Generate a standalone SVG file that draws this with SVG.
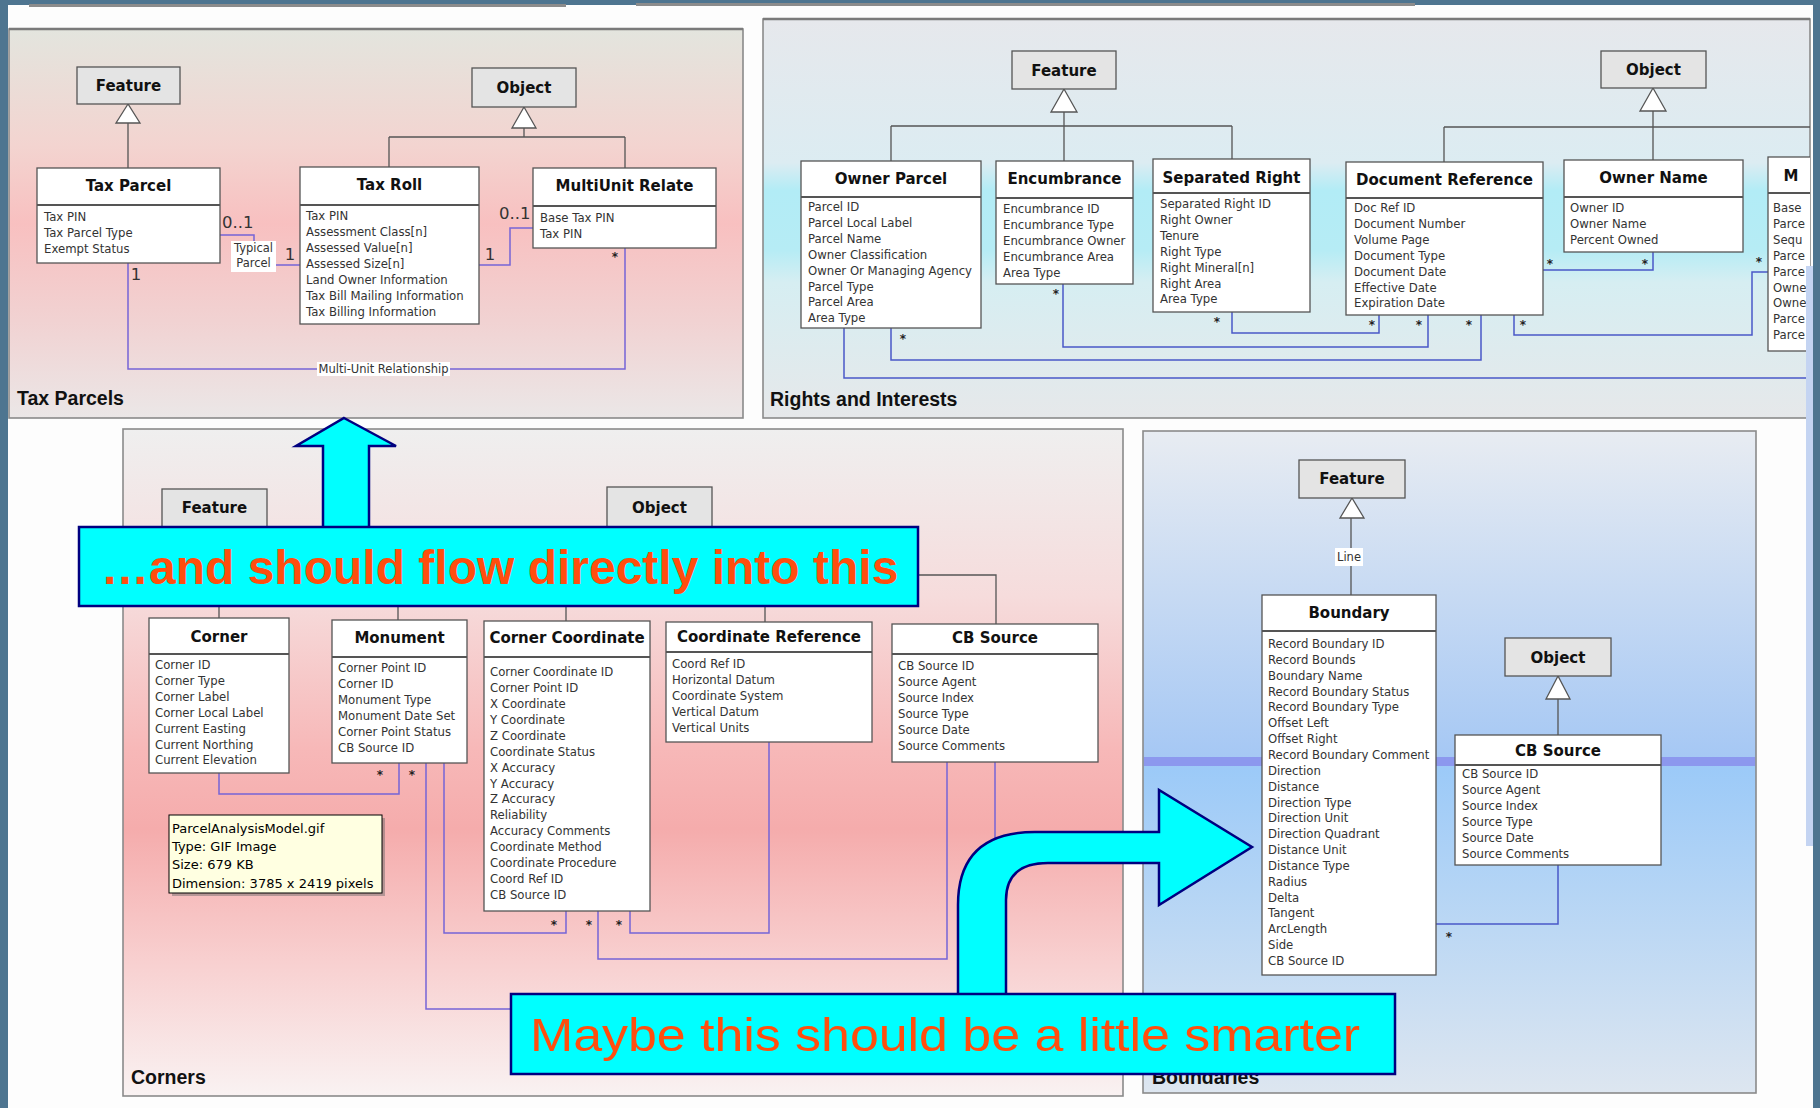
<svg xmlns="http://www.w3.org/2000/svg" width="1820" height="1108" viewBox="0 0 1820 1108">
<defs>
<style>
.box{fill:#fff;stroke:#555;stroke-width:1.3}
.abs{fill:#e4e4e4;stroke:#555;stroke-width:1.3}
.sep{stroke:#555;stroke-width:1.8}
.title{font-family:"DejaVu Sans",sans-serif;font-weight:bold;font-size:15px;fill:#111;text-anchor:middle}
.attr{font-family:"DejaVu Sans",sans-serif;font-size:11.7px;fill:#333}
.inh{fill:none;stroke:#555;stroke-width:1.3}
.tri{fill:#fff;stroke:#555;stroke-width:1.3}
.ap{fill:none;stroke:#7664d6;stroke-width:1.5}
.ab{fill:none;stroke:#4a58c8;stroke-width:1.5}
.mult{font-family:"DejaVu Sans",sans-serif;font-size:16.5px;fill:#333}
.star{font-family:"DejaVu Sans",sans-serif;font-size:12px;font-weight:bold;fill:#222;text-anchor:middle}
.lbl{font-family:"DejaVu Sans",sans-serif;font-size:11.5px;fill:#333;text-anchor:middle}
.plabel{font-family:"Liberation Sans",Arial,sans-serif;font-weight:bold;font-size:19.5px;fill:#111}
.banner{fill:#00ffff;stroke:#000080;stroke-width:2.5}
.panel{stroke:#8a8a8a;stroke-width:1.6}
.tip{font-family:"DejaVu Sans",sans-serif;font-size:13px;fill:#000}
</style>
<linearGradient id="gTax" x1="0" y1="0" x2="0" y2="1">
<stop offset="0" stop-color="#e3e5de"/><stop offset="0.3" stop-color="#f3d4d0"/><stop offset="0.5" stop-color="#f8c0c0"/><stop offset="0.75" stop-color="#f1d2d2"/><stop offset="1" stop-color="#ebe7e7"/>
</linearGradient>
<linearGradient id="gRights" x1="0" y1="0" x2="0" y2="1">
<stop offset="0" stop-color="#e6e8ec"/><stop offset="0.36" stop-color="#dcecf2"/><stop offset="0.43" stop-color="#b2ecf6"/><stop offset="0.58" stop-color="#b6ecf5"/><stop offset="0.66" stop-color="#d6eef2"/><stop offset="1" stop-color="#e6e8ea"/>
</linearGradient>
<linearGradient id="gCorners" x1="0" y1="0" x2="0" y2="1">
<stop offset="0" stop-color="#efefef"/><stop offset="0.25" stop-color="#f6dcdc"/><stop offset="0.48" stop-color="#f7b8b8"/><stop offset="0.6" stop-color="#f5acac"/><stop offset="0.8" stop-color="#f8d0d0"/><stop offset="1" stop-color="#f9f2f2"/>
</linearGradient>
<linearGradient id="gBound" x1="0" y1="0" x2="0" y2="1">
<stop offset="0" stop-color="#e8ecf2"/><stop offset="0.49" stop-color="#a6c8f4"/><stop offset="0.51" stop-color="#9ccaf8"/><stop offset="1" stop-color="#dde6f0"/>
</linearGradient>
<clipPath id="clipR"><rect x="763" y="19" width="1047" height="400"/></clipPath>
</defs>

<!-- page -->
<rect x="0" y="0" width="1820" height="1108" fill="#4e7590"/>
<rect x="8" y="5" width="1805" height="1103" fill="#fdfdfd"/>
<rect x="29" y="4" width="537" height="3" fill="#8c8c8c"/>
<rect x="636" y="3" width="779" height="3" fill="#8c8c8c"/>

<!-- ===== Tax Parcels panel ===== -->
<g id="panel-tax">
<rect x="9" y="29" width="734" height="389" fill="url(#gTax)" class="panel"/>
<line x1="9" y1="29" x2="743" y2="29" stroke="#7a7a7a" stroke-width="2.5"/>
<text class="plabel" x="17" y="405">Tax Parcels</text>
</g>
<g id="tax-connectors">
<path class="inh" d="M128,123 V168 M524,128 V137 M389,137 H625 M389,137 V167 M625,137 V168"/>
<polygon class="tri" points="128,104 116,123 140,123"/>
<polygon class="tri" points="524,107 512,128 536,128"/>
<path class="ap" d="M220,235 H254 V265 H300"/>
<path class="ap" d="M479,265 H510 V228 H533"/>
<path class="ap" d="M128,263 V369 H625 V248"/>
<rect x="231" y="241" width="45" height="31" fill="#fff"/>
<text class="lbl" x="253.5" y="252">Typical</text>
<text class="lbl" x="253.5" y="267">Parcel</text>
<text class="mult" x="222" y="228">0..1</text>
<text class="mult" x="290" y="260" text-anchor="middle">1</text>
<text class="mult" x="490" y="260" text-anchor="middle">1</text>
<text class="mult" x="499" y="219">0..1</text>
<text class="mult" x="136" y="280" text-anchor="middle">1</text>
<text class="star" x="615" y="261">*</text>
<rect x="317" y="362" width="133" height="14" fill="#fff"/>
<text class="lbl" x="383.5" y="373">Multi-Unit Relationship</text>
</g>
<g id="tp-feature"><rect class="abs" x="77" y="67" width="103" height="37"/><text class="title" x="128.5" y="90.5">Feature</text></g>
<g id="tp-object"><rect class="abs" x="472" y="68" width="104" height="39"/><text class="title" x="524" y="93">Object</text></g>
<g id="tax-parcel"><rect class="box" x="37" y="168" width="183" height="95"/><line class="sep" x1="37" y1="205" x2="220" y2="205"/><text class="title" x="128.5" y="190.5">Tax Parcel</text>
<text class="attr" x="44" y="221"><tspan x="44">Tax PIN</tspan><tspan x="44" dy="16">Tax Parcel Type</tspan><tspan x="44" dy="16">Exempt Status</tspan></text></g>
<g id="tax-roll"><rect class="box" x="300" y="167" width="179" height="157"/><line class="sep" x1="300" y1="205" x2="479" y2="205"/><text class="title" x="389.5" y="190">Tax Roll</text>
<text class="attr" x="306" y="220"><tspan x="306">Tax PIN</tspan><tspan x="306" dy="16">Assessment Class[n]</tspan><tspan x="306" dy="16">Assessed Value[n]</tspan><tspan x="306" dy="16">Assessed Size[n]</tspan><tspan x="306" dy="16">Land Owner Information</tspan><tspan x="306" dy="16">Tax Bill Mailing Information</tspan><tspan x="306" dy="16">Tax Billing Information</tspan></text></g>
<g id="multiunit-relate"><rect class="box" x="533" y="168" width="183" height="80"/><line class="sep" x1="533" y1="206" x2="716" y2="206"/><text class="title" x="624.5" y="191">MultiUnit Relate</text>
<text class="attr" x="540" y="222"><tspan x="540">Base Tax PIN</tspan><tspan x="540" dy="16">Tax PIN</tspan></text></g>

<!-- ===== Rights and Interests panel ===== -->
<g id="panel-rights">
<rect x="763" y="19" width="1047" height="399" fill="url(#gRights)" class="panel"/>
<line x1="763" y1="19" x2="1810" y2="19" stroke="#7a7a7a" stroke-width="2.5"/>
<text class="plabel" x="770" y="406">Rights and Interests</text>
</g>
<g id="rights-connectors" clip-path="url(#clipR)">
<path class="inh" d="M1064,112 V161 M891,126 H1232 M891,126 V161 M1232,126 V159 M1653,111 V160 M1444,127 H1810 M1444,127 V162"/>
<polygon class="tri" points="1064,89 1051,112 1077,112"/>
<polygon class="tri" points="1653,88 1640,111 1666,111"/>
<path class="ab" d="M844,328 V378 H1810"/>
<path class="ab" d="M891,328 V360 H1481 V315"/>
<path class="ab" d="M1063,284 V347 H1428 V315"/>
<path class="ab" d="M1232,312 V333 H1379 V315"/>
<path class="ab" d="M1543,270 H1653 V252"/>
<path class="ab" d="M1514,315 V335 H1752 V272 H1768"/>
<text class="star" x="903" y="343">*</text>
<text class="star" x="1469" y="329">*</text>
<text class="star" x="1056" y="298">*</text>
<text class="star" x="1419" y="329">*</text>
<text class="star" x="1217" y="326">*</text>
<text class="star" x="1372" y="329">*</text>
<text class="star" x="1550" y="268">*</text>
<text class="star" x="1645" y="268">*</text>
<text class="star" x="1523" y="329">*</text>
<text class="star" x="1759" y="266">*</text>
</g>
<g id="ri-feature"><rect class="abs" x="1012" y="51" width="104" height="38"/><text class="title" x="1064" y="75.5">Feature</text></g>
<g id="ri-object"><rect class="abs" x="1601" y="51" width="105" height="37"/><text class="title" x="1653.5" y="75">Object</text></g>
<g id="owner-parcel"><rect class="box" x="801" y="161" width="180" height="167"/><line class="sep" x1="801" y1="197" x2="981" y2="197"/><text class="title" x="891" y="183.5">Owner Parcel</text>
<text class="attr" x="808" y="211"><tspan x="808">Parcel ID</tspan><tspan x="808" dy="15.9">Parcel Local Label</tspan><tspan x="808" dy="15.9">Parcel Name</tspan><tspan x="808" dy="15.9">Owner Classification</tspan><tspan x="808" dy="15.9">Owner Or Managing Agency</tspan><tspan x="808" dy="15.9">Parcel Type</tspan><tspan x="808" dy="15.9">Parcel Area</tspan><tspan x="808" dy="15.9">Area Type</tspan></text></g>
<g id="encumbrance"><rect class="box" x="996" y="161" width="137" height="123"/><line class="sep" x1="996" y1="198" x2="1133" y2="198"/><text class="title" x="1064.5" y="183.5">Encumbrance</text>
<text class="attr" x="1003" y="213"><tspan x="1003">Encumbrance ID</tspan><tspan x="1003" dy="15.9">Encumbrance Type</tspan><tspan x="1003" dy="15.9">Encumbrance Owner</tspan><tspan x="1003" dy="15.9">Encumbrance Area</tspan><tspan x="1003" dy="15.9">Area Type</tspan></text></g>
<g id="separated-right"><rect class="box" x="1153" y="159" width="157" height="153"/><line class="sep" x1="1153" y1="193" x2="1310" y2="193"/><text class="title" x="1231.5" y="183">Separated Right</text>
<text class="attr" x="1160" y="208"><tspan x="1160">Separated Right ID</tspan><tspan x="1160" dy="15.9">Right Owner</tspan><tspan x="1160" dy="15.9">Tenure</tspan><tspan x="1160" dy="15.9">Right Type</tspan><tspan x="1160" dy="15.9">Right Mineral[n]</tspan><tspan x="1160" dy="15.9">Right Area</tspan><tspan x="1160" dy="15.9">Area Type</tspan></text></g>
<g id="document-reference"><rect class="box" x="1346" y="162" width="197" height="153"/><line class="sep" x1="1346" y1="198" x2="1543" y2="198"/><text class="title" x="1444.5" y="184.5">Document Reference</text>
<text class="attr" x="1354" y="212"><tspan x="1354">Doc Ref ID</tspan><tspan x="1354" dy="15.9">Document Number</tspan><tspan x="1354" dy="15.9">Volume Page</tspan><tspan x="1354" dy="15.9">Document Type</tspan><tspan x="1354" dy="15.9">Document Date</tspan><tspan x="1354" dy="15.9">Effective Date</tspan><tspan x="1354" dy="15.9">Expiration Date</tspan></text></g>
<g id="owner-name"><rect class="box" x="1564" y="160" width="179" height="92"/><line class="sep" x1="1564" y1="197" x2="1743" y2="197"/><text class="title" x="1653.5" y="182.5">Owner Name</text>
<text class="attr" x="1570" y="212"><tspan x="1570">Owner ID</tspan><tspan x="1570" dy="16">Owner Name</tspan><tspan x="1570" dy="16">Percent Owned</tspan></text></g>
<g id="m-box" clip-path="url(#clipR)"><rect class="box" x="1768" y="157" width="60" height="194"/><line class="sep" x1="1768" y1="193" x2="1828" y2="193"/><text class="title" x="1791" y="180.5">M</text>
<text class="attr" x="1773" y="212"><tspan x="1773">Base</tspan><tspan x="1773" dy="15.9">Parce</tspan><tspan x="1773" dy="15.9">Sequ</tspan><tspan x="1773" dy="15.9">Parce</tspan><tspan x="1773" dy="15.9">Parce</tspan><tspan x="1773" dy="15.9">Owne</tspan><tspan x="1773" dy="15.9">Owne</tspan><tspan x="1773" dy="15.9">Parce</tspan><tspan x="1773" dy="15.9">Parce</tspan></text></g>

<!-- ===== Corners panel ===== -->
<g id="panel-corners">
<rect x="123" y="429" width="1000" height="667" fill="url(#gCorners)" class="panel"/>
<text class="plabel" x="131" y="1084">Corners</text>
</g>
<g id="corners-connectors">
<path class="inh" d="M219,590 V618 M398,590 V620 M566,590 V621 M765,590 V622 M900,575 H996 V624"/>
<path class="ap" d="M219,773 V794 H399 V763"/>
<path class="ap" d="M426,763 V1009 H995 V762"/>
<path class="ap" d="M444,763 V933 H566 V911"/>
<path class="ap" d="M598,911 V959 H947 V762"/>
<path class="ap" d="M630,911 V933 H769 V742"/>
<text class="star" x="380" y="779">*</text>
<text class="star" x="412" y="779">*</text>
<text class="star" x="554" y="929">*</text>
<text class="star" x="589" y="929">*</text>
<text class="star" x="619" y="929">*</text>
</g>
<g id="co-feature"><rect class="abs" x="162" y="489" width="105" height="38"/><text class="title" x="214.5" y="512.5">Feature</text></g>
<g id="co-object"><rect class="abs" x="607" y="487" width="105" height="40"/><text class="title" x="659.5" y="512.5">Object</text></g>
<g id="corner"><rect class="box" x="149" y="618" width="140" height="155"/><line class="sep" x1="149" y1="654" x2="289" y2="654"/><text class="title" x="219" y="641.5">Corner</text>
<text class="attr" x="155" y="669"><tspan x="155">Corner ID</tspan><tspan x="155" dy="15.9">Corner Type</tspan><tspan x="155" dy="15.9">Corner Label</tspan><tspan x="155" dy="15.9">Corner Local Label</tspan><tspan x="155" dy="15.9">Current Easting</tspan><tspan x="155" dy="15.9">Current Northing</tspan><tspan x="155" dy="15.9">Current Elevation</tspan></text></g>
<g id="monument"><rect class="box" x="332" y="620" width="135" height="143"/><line class="sep" x1="332" y1="657" x2="467" y2="657"/><text class="title" x="399.5" y="642.5">Monument</text>
<text class="attr" x="338" y="672"><tspan x="338">Corner Point ID</tspan><tspan x="338" dy="16">Corner ID</tspan><tspan x="338" dy="16">Monument Type</tspan><tspan x="338" dy="16">Monument Date Set</tspan><tspan x="338" dy="16">Corner Point Status</tspan><tspan x="338" dy="16">CB Source ID</tspan></text></g>
<g id="corner-coordinate"><rect class="box" x="484" y="621" width="166" height="290"/><line class="sep" x1="484" y1="657" x2="650" y2="657"/><text class="title" x="567" y="642.5">Corner Coordinate</text>
<text class="attr" x="490" y="676"><tspan x="490">Corner Coordinate ID</tspan><tspan x="490" dy="15.93">Corner Point ID</tspan><tspan x="490" dy="15.93">X Coordinate</tspan><tspan x="490" dy="15.93">Y Coordinate</tspan><tspan x="490" dy="15.93">Z Coordinate</tspan><tspan x="490" dy="15.93">Coordinate Status</tspan><tspan x="490" dy="15.93">X Accuracy</tspan><tspan x="490" dy="15.93">Y Accuracy</tspan><tspan x="490" dy="15.93">Z Accuracy</tspan><tspan x="490" dy="15.93">Reliability</tspan><tspan x="490" dy="15.93">Accuracy Comments</tspan><tspan x="490" dy="15.93">Coordinate Method</tspan><tspan x="490" dy="15.93">Coordinate Procedure</tspan><tspan x="490" dy="15.93">Coord Ref ID</tspan><tspan x="490" dy="15.93">CB Source ID</tspan></text></g>
<g id="coordinate-reference"><rect class="box" x="666" y="622" width="206" height="120"/><line class="sep" x1="666" y1="652" x2="872" y2="652"/><text class="title" x="769" y="641.5">Coordinate Reference</text>
<text class="attr" x="672" y="668"><tspan x="672">Coord Ref ID</tspan><tspan x="672" dy="16">Horizontal Datum</tspan><tspan x="672" dy="16">Coordinate System</tspan><tspan x="672" dy="16">Vertical Datum</tspan><tspan x="672" dy="16">Vertical Units</tspan></text></g>
<g id="co-cb-source"><rect class="box" x="892" y="624" width="206" height="138"/><line class="sep" x1="892" y1="654" x2="1098" y2="654"/><text class="title" x="995" y="642.5">CB Source</text>
<text class="attr" x="898" y="670"><tspan x="898">CB Source ID</tspan><tspan x="898" dy="16">Source Agent</tspan><tspan x="898" dy="16">Source Index</tspan><tspan x="898" dy="16">Source Type</tspan><tspan x="898" dy="16">Source Date</tspan><tspan x="898" dy="16">Source Comments</tspan></text></g>
<g id="tooltip">
<rect x="172" y="818" width="213" height="78" fill="#666" opacity="0.45"/>
<rect x="169" y="815" width="213" height="78" fill="#ffffe1" stroke="#000" stroke-width="1"/>
<text class="tip" x="172" y="833"><tspan x="172">ParcelAnalysisModel.gif</tspan><tspan x="172" dy="18">Type: GIF Image</tspan><tspan x="172" dy="18">Size: 679 KB</tspan><tspan x="172" dy="19">Dimension: 3785 x 2419 pixels</tspan></text>
</g>

<!-- ===== Boundaries panel ===== -->
<g id="panel-boundaries">
<rect x="1143" y="431" width="613" height="662" fill="url(#gBound)" class="panel"/>
<rect x="1144" y="757" width="611" height="9" fill="#8c98ee"/>
<text class="plabel" x="1152" y="1084">Boundaries</text>
</g>
<g id="boundaries-connectors">
<path class="inh" d="M1351,518 V595 M1558,699 V735"/>
<polygon class="tri" points="1352,498 1340,518 1364,518"/>
<polygon class="tri" points="1558,676 1546,699 1570,699"/>
<rect x="1335" y="548" width="28" height="18" fill="#fff"/>
<text class="lbl" x="1349" y="561">Line</text>
<path class="ab" d="M1558,865 V924 H1436"/>
<text class="star" x="1449" y="941">*</text>
</g>
<g id="bd-feature"><rect class="abs" x="1299" y="460" width="106" height="38"/><text class="title" x="1352" y="483.5">Feature</text></g>
<g id="bd-object"><rect class="abs" x="1505" y="638" width="106" height="38"/><text class="title" x="1558" y="662.5">Object</text></g>
<g id="boundary"><rect class="box" x="1262" y="595" width="174" height="380"/><line class="sep" x1="1262" y1="631" x2="1436" y2="631"/><text class="title" x="1349" y="617.5">Boundary</text>
<text class="attr" x="1268" y="648"><tspan x="1268">Record Boundary ID</tspan><tspan x="1268" dy="15.85">Record Bounds</tspan><tspan x="1268" dy="15.85">Boundary Name</tspan><tspan x="1268" dy="15.85">Record Boundary Status</tspan><tspan x="1268" dy="15.85">Record Boundary Type</tspan><tspan x="1268" dy="15.85">Offset Left</tspan><tspan x="1268" dy="15.85">Offset Right</tspan><tspan x="1268" dy="15.85">Record Boundary Comment</tspan><tspan x="1268" dy="15.85">Direction</tspan><tspan x="1268" dy="15.85">Distance</tspan><tspan x="1268" dy="15.85">Direction Type</tspan><tspan x="1268" dy="15.85">Direction Unit</tspan><tspan x="1268" dy="15.85">Direction Quadrant</tspan><tspan x="1268" dy="15.85">Distance Unit</tspan><tspan x="1268" dy="15.85">Distance Type</tspan><tspan x="1268" dy="15.85">Radius</tspan><tspan x="1268" dy="15.85">Delta</tspan><tspan x="1268" dy="15.85">Tangent</tspan><tspan x="1268" dy="15.85">ArcLength</tspan><tspan x="1268" dy="15.85">Side</tspan><tspan x="1268" dy="15.85">CB Source ID</tspan></text></g>
<g id="bd-cb-source"><rect class="box" x="1455" y="735" width="206" height="130"/><line class="sep" x1="1455" y1="765" x2="1661" y2="765"/><text class="title" x="1558" y="755.5">CB Source</text>
<text class="attr" x="1462" y="778"><tspan x="1462">CB Source ID</tspan><tspan x="1462" dy="16">Source Agent</tspan><tspan x="1462" dy="16">Source Index</tspan><tspan x="1462" dy="16">Source Type</tspan><tspan x="1462" dy="16">Source Date</tspan><tspan x="1462" dy="16">Source Comments</tspan></text></g>

<!-- window edge strip -->
<rect x="1806" y="266" width="7" height="580" fill="#c4d4f2"/>

<!-- ===== callouts ===== -->
<g id="arrow-up"><polygon class="banner" points="344,418 396,446 369,446 369,529 323,529 323,446 296,446"/></g>
<g id="banner-flow">
<rect class="banner" x="79" y="527" width="839" height="79"/>
<text x="101" y="584" font-family="'Liberation Sans',Arial,sans-serif" font-weight="bold" font-size="48" fill="#ff4e0e">…and should flow directly into this</text>
</g>
<g id="arrow-bent"><path class="banner" d="M958,996 V905 Q958,832 1035,832 H1159 V790 L1252,847 L1159,905 V863 H1048 Q1006,863 1006,900 V996 Z"/></g>
<g id="banner-smarter">
<rect class="banner" x="511" y="994" width="884" height="80"/>
<text x="530" y="1051" font-family="'Liberation Sans',Arial,sans-serif" font-size="47" fill="#ff4e0e" textLength="830" lengthAdjust="spacingAndGlyphs">Maybe this should be a little smarter</text>
</g>
</svg>
